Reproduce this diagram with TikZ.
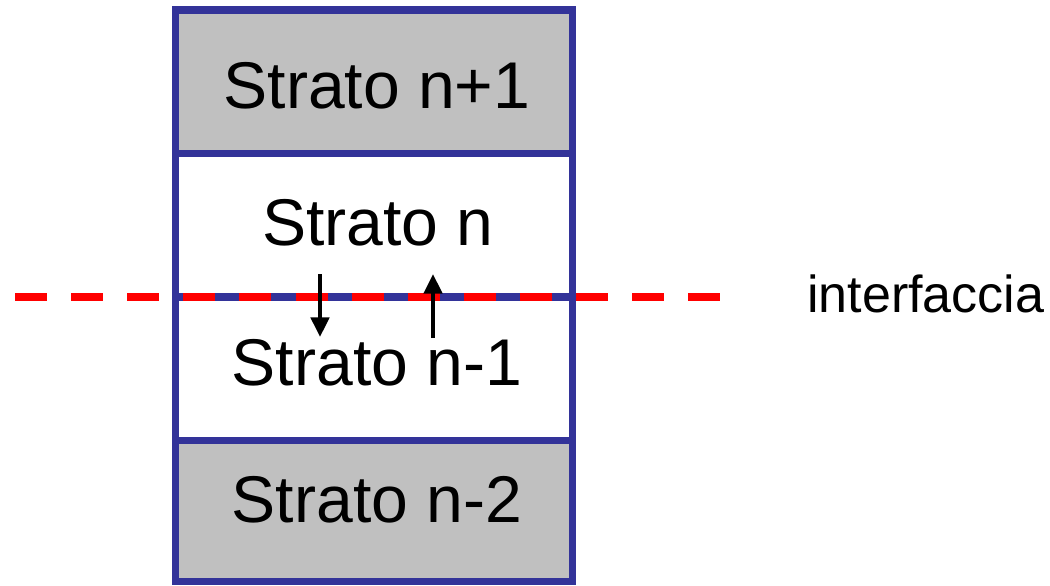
\documentclass[tikz,border=0pt]{standalone}
\usepackage{fontspec}
\setmainfont{Liberation Sans}
\usepackage{xcolor}
\usetikzlibrary{
    arrows.meta,
    positioning,
    calc
}
\definecolor{navy}{HTML}{333399}
\definecolor{layergray}{HTML}{C0C0C0}

\begin{document}
\begin{tikzpicture}[x=0.025cm, y=-0.025cm, >={Triangle[length=14pt,width=13pt]},
        layer/.style={
            % The shape:
            rectangle, anchor=north west, inner sep=0pt, outer sep=0pt,
            % The size:
            minimum width=9.9125cm, minimum height=3.5875cm,
            % The border
            line width=5pt, draw=navy},
        stratolabel/.style={anchor=base, inner sep=0pt,
            font=\fontsize{47}{50}\selectfont}]
        \useasboundingbox (0,0) rectangle (1050,585);

        % the four layers, top to bottom
        \node [layer, fill=layergray] (top) at (175.5,10) {};
        \node [layer, fill=white] (upper) at (175.5,153.5) {};
        \node [layer, fill=white] (lower) at (175.5,297) {};
        \node [layer, fill=layergray, minimum height=3.525cm] (bottom) at (175.5,440.5) {};

        \node [stratolabel] (tnp) at (377,108) {Strato n+1};
        \node [stratolabel] (tn) at (378,245) {Strato n};
        \node [stratolabel] (tnm) at (377,385) {Strato n-1};
        \node [stratolabel] (tnmm) at (377,522) {Strato n-2};

        % interface
        \coordinate (ifleft) at (15,297);
        \coordinate (ifright) at (720,297);
        \draw [red, line width=5.7pt, dash pattern=on 22.8pt off 17.1pt] (ifleft) -- (ifright);
        \node [anchor=base west, inner sep=0pt, font=\fontsize{37}{40}\selectfont]
            (iflabel) at (807,312) {interfaccia};

        % down and up
        \coordinate (downa) at (320,274);
        \coordinate (downb) at (320,337);
        \coordinate (upa) at (433,338);
        \coordinate (upb) at (433,274);
        \draw [->, line width=2.8pt] (downa) -- (downb);
        \draw [->, line width=2.8pt] (upa) -- (upb);

        \end{tikzpicture}
\end{document}
